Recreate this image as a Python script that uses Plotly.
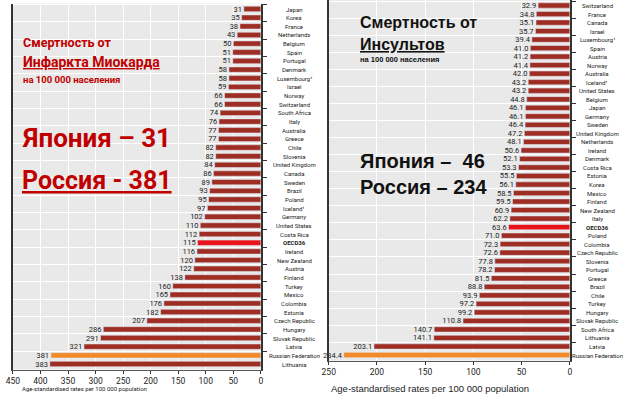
import plotly.graph_objects as go

W, H = 624, 396

# ---- Left panel: myocardial infarction ----
ami_countries = ["Japan", "Korea", "France", "Netherlands", "Belgium", "Spain", "Portugal", "Denmark",
                 "Luxembourg¹", "Israel", "Norway", "Switzerland", "South Africa", "Italy", "Australia",
                 "Greece", "Chile", "Slovenia", "United Kingdom", "Canada", "Sweden", "Brazil", "Poland",
                 "Iceland¹", "Germany", "United States", "Costa Rica", "OECD36", "Ireland", "New Zealand",
                 "Austria", "Finland", "Turkey", "Mexico", "Colombia", "Estonia", "Czech Republic",
                 "Hungary", "Slovak Republic", "Latvia", "Russian Federation", "Lithuania"]
ami_values = [31, 35, 38, 43, 50, 51, 51, 58, 58, 59, 66, 66, 74, 76, 77, 77, 82, 82, 84, 86, 89, 93, 95,
              97, 102, 110, 112, 115, 116, 120, 122, 138, 160, 165, 176, 182, 207, 286, 291, 321, 381, 383]
ami_ticks = [450, 400, 350, 300, 250, 200, 150, 100, 50, 0]

# ---- Right panel: stroke ----
stroke_countries = ["Switzerland", "France", "Canada", "Israel", "Luxembourg¹", "Spain", "Austria", "Norway",
                    "Australia", "Iceland¹", "United States", "Belgium", "Japan", "Germany", "Sweden",
                    "United Kingdom", "Netherlands", "Ireland", "Denmark", "Costa Rica", "Estonia", "Korea",
                    "Mexico", "Finland", "New Zealand", "Italy", "OECD36", "Poland", "Colombia",
                    "Czech Republic", "Slovenia", "Portugal", "Greece", "Brazil", "Chile", "Turkey", "Hungary",
                    "Slovak Republic", "South Africa", "Lithuania", "Latvia", "Russian Federation"]
stroke_values = [32.9, 34.8, 35.1, 35.7, 39.4, 41.0, 41.2, 41.4, 42.0, 43.2, 43.2, 44.8, 46.1, 46.1, 46.4,
                 47.2, 48.1, 50.6, 52.1, 53.3, 55.5, 56.1, 58.5, 59.5, 60.9, 62.2, 63.6, 71.0, 72.3, 72.6,
                 77.8, 78.2, 81.5, 88.8, 93.9, 97.2, 99.2, 110.8, 140.7, 141.1, 203.1, 234.4]
stroke_ticks = [250, 200, 150, 100, 50, 0]

DARK = "#9e2e24"
OECD = "#e8141b"
RUS = "#f28a2a"
NARROW = "Roboto, Liberation Sans, Arial"


def colors(cats):
    out = []
    for c in cats:
        if c == "OECD36":
            out.append(OECD)
        elif c == "Russian Federation":
            out.append(RUS)
        else:
            out.append(DARK)
    return out


fig = go.Figure()
fig.add_trace(go.Bar(
    y=ami_countries, x=ami_values, orientation="h", marker_color=colors(ami_countries),
    width=0.62, text=[f"{v}\u00a0" for v in ami_values], textposition="outside", constraintext="none",
    textfont=dict(family=NARROW, size=7.5, color="#222"), cliponaxis=False,
    xaxis="x", yaxis="y", showlegend=False))
fig.add_trace(go.Bar(
    y=stroke_countries, x=stroke_values, orientation="h", marker_color=colors(stroke_countries),
    width=0.62, text=[f"{v:.1f}\u00a0" for v in stroke_values], textposition="outside", constraintext="none",
    textfont=dict(family=NARROW, size=7.5, color="#222"), cliponaxis=False,
    xaxis="x2", yaxis="y2", showlegend=False))

axis_common = dict(showgrid=True, gridcolor="white", gridwidth=1, zeroline=False,
                   ticks="outside", ticklen=3, tickcolor="#333", showline=True,
                   linecolor="#555", linewidth=1,
                   tickfont=dict(family=NARROW, size=8.5, color="#222"))

fig.update_layout(
    width=W, height=H, margin=dict(l=0, r=0, t=0, b=0),
    paper_bgcolor="white", plot_bgcolor="#e9e9e9",
    xaxis=dict(domain=[6 / W, 258 / W], range=[450, 0], tickvals=ami_ticks, anchor="y", **axis_common),
    yaxis=dict(domain=[1 - 369.5 / H, 1 - 3.5 / H], autorange="reversed", side="right", anchor="x",
               showticklabels=False, ticks="outside", ticklen=4, tickson="boundaries",
               showgrid=True, gridcolor="white", showline=True, linecolor="#333", linewidth=1.5,
               mirror=True, tickcolor="#333"),
    xaxis2=dict(domain=[327 / W, 572 / W], range=[250, 0], tickvals=stroke_ticks, anchor="y2", **axis_common),
    yaxis2=dict(domain=[1 - 360.5 / H, 1], autorange="reversed", side="right", anchor="x2",
                showticklabels=False, ticks="outside", ticklen=4, tickson="boundaries",
                showgrid=True, gridcolor="white", showline=True, linecolor="#333", linewidth=1.5,
                mirror=True, tickcolor="#333"),
)

ann = []
# Category labels
for c in ami_countries:
    ann.append(dict(x=292 / W, xref="paper", y=c, yref="y", text=(f"<b>{c}</b>" if c == "OECD36" else c),
                    showarrow=False, xanchor="center", yanchor="middle",
                    font=dict(family=NARROW, size=6, color="#222")))
for c in stroke_countries:
    ann.append(dict(x=600 / W, xref="paper", y=c, yref="y2", text=(f"<b>{c}</b>" if c == "OECD36" else c),
                    showarrow=False, xanchor="center", yanchor="middle",
                    font=dict(family=NARROW, size=6, color="#222")))

# Axis titles
ann.append(dict(x=13 / W, y=1 - 388 / H, xref="paper", yref="paper", xanchor="left", yanchor="middle",
                text="Age-standardised rates per 100 000 population", showarrow=False,
                font=dict(family=NARROW, size=6, color="#222")))
ann.append(dict(x=327 / W, y=1 - 388 / H, xref="paper", yref="paper", xanchor="left", yanchor="middle",
                text="Age-standardised rates per 100 000 population", showarrow=False,
                font=dict(family="Liberation Sans, Arial", size=9.5, color="#222")))

RED = "#c00000"
SANS = "Roboto, Noto Sans, sans-serif"


def txt(x, y, s, size, color, family):
    ann.append(dict(x=x / W, y=1 - y / H, xref="paper", yref="paper", xanchor="left", yanchor="middle",
                    text=s, showarrow=False, font=dict(family=family, size=size, color=color)))


txt(14, 42, "<b>Смертность от</b>", 12.5, RED, SANS)
txt(14, 62, "<b><u>Инфаркта Миокарда</u></b>", 14, RED, SANS)
txt(14, 79, "<b>на 100 000 населения</b>", 9.5, RED, SANS)
txt(13, 138, "<b>Япония – 31</b>", 26, RED, SANS)
txt(13, 180, "<b><u>Россия - 381</u></b>", 25, RED, SANS)

BLK = "#111"
ARIAL = "Liberation Sans, Arial"
txt(357, 23, "<b>Смертность от</b>", 16, BLK, ARIAL)
txt(357, 44, "<b><u>Инсультов</u></b>", 16, BLK, ARIAL)
txt(357, 60, "<b>на 100 000 населения</b>", 7.5, BLK, ARIAL)
txt(357, 161, "<b>Япония –  46</b>", 20, BLK, ARIAL)
txt(357, 187, "<b>Россия – 234</b>", 20, BLK, ARIAL)

fig.update_layout(annotations=ann)
fig.write_html("out.html", config={"displayModeBar": False},
               post_script="document.body.style.margin='0';document.body.style.overflow='hidden';")
